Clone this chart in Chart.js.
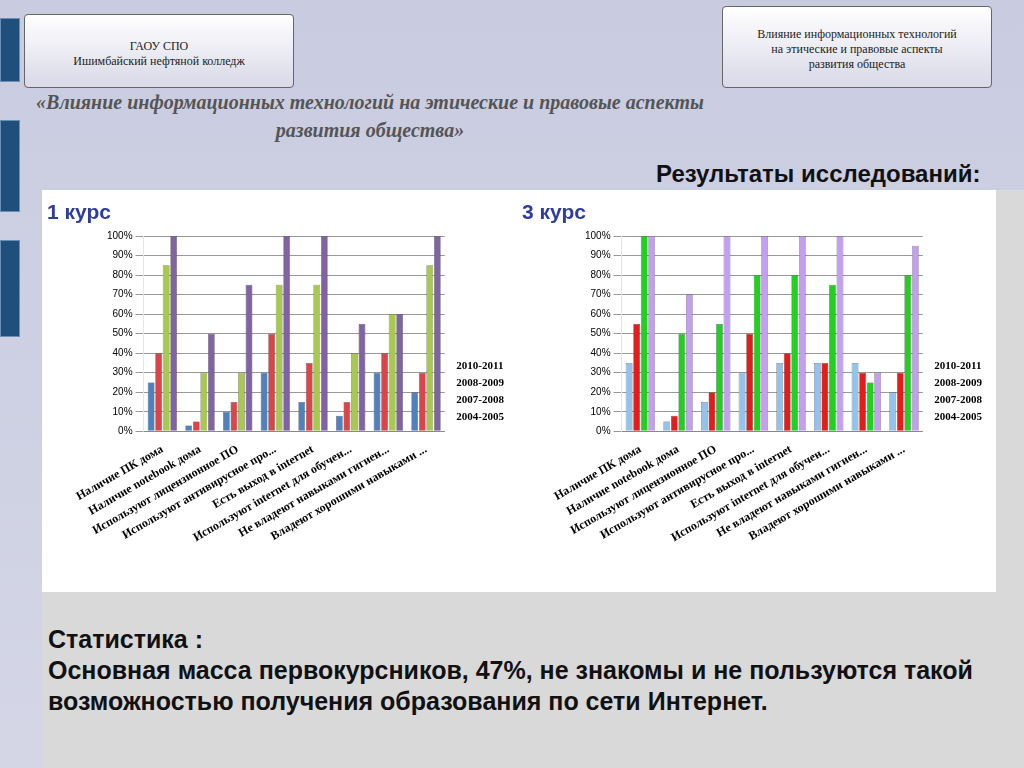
<!DOCTYPE html>
<html><head><meta charset="utf-8">
<script src="https://cdn.jsdelivr.net/npm/chart.js@4"></script>
<style>
body{margin:0;width:1024px;height:768px;overflow:hidden;background:linear-gradient(#c9cce0,#d4d6e6);font-family:"Liberation Sans",Arial,sans-serif;position:relative}
.sq{position:absolute;left:0;width:18px;background:#1f4f7a;border:1px solid #6a8fb5}
.scroll{position:absolute;background:linear-gradient(#fff,#d9d9e8);border:1px solid #666;border-radius:4px;text-align:center;font-family:"Liberation Serif",serif;font-size:12px;color:#222}
#title{position:absolute;left:20px;top:88px;width:700px;text-align:center;white-space:nowrap;font-family:"Liberation Serif",serif;font-style:italic;font-weight:bold;font-size:20px;color:#555;line-height:28px}
#res{position:absolute;left:656px;top:160px;font-size:24px;font-weight:bold;color:#111;white-space:nowrap}
#panel{position:absolute;left:42px;top:190px;width:954px;height:402px;background:#fff}
#bottom{position:absolute;left:42px;top:592px;width:982px;height:176px;background:#d9d9d9}
#rightgray{position:absolute;left:996px;top:190px;width:28px;height:402px;background:#d9d9d9}
#stat{position:absolute;left:48px;top:624px;font-size:25px;font-weight:bold;color:#111;line-height:31px;white-space:nowrap}
.lbl{position:absolute;font-size:21px;font-weight:bold;color:#2e3d9e}
.cw{position:absolute;top:192px;width:470px;height:396px}
</style></head><body>
<div class="sq" style="top:18px;height:62px"></div>
<div class="sq" style="top:120px;height:90px"></div>
<div class="sq" style="top:240px;height:95px"></div>
<div class="scroll" style="left:24px;top:14px;width:270px;height:74px;padding-top:24px;box-sizing:border-box">ГАОУ СПО<br>Ишимбайский нефтяной колледж</div>
<div class="scroll" style="left:722px;top:6px;width:270px;height:82px;padding-top:20px;box-sizing:border-box">Влияние информационных технологий<br>на этические и правовые аспекты<br>развития общества</div>
<div id="title">«Влияние информационных технологий на этические и правовые аспекты<br>развития общества»</div>
<div id="res">Результаты исследований:</div>
<div id="panel"></div><div id="rightgray"></div><div id="bottom"></div>
<div class="cw" style="left:44px"><canvas id="c1"></canvas></div>
<div class="cw" style="left:522px"><canvas id="c2"></canvas></div>
<div class="lbl" style="left:47px;top:200px">1 курс</div>
<div class="lbl" style="left:522px;top:200px">3 курс</div>
<div id="stat">Статистика :<br>Основная масса первокурсников, 47%, не знакомы и не пользуются такой<br>возможностью получения образования по сети Интернет.</div>
<script>
const categories=["Наличие ПК дома","Наличие notebook дома","Используют лицензионное ПО","Используют антивирусное про...","Есть выход в internet","Используют internet для обучен...","Не владеют навыками гигиен...","Владеют хорошими навыками ..."];
const years=["2004-2005","2007-2008","2008-2009","2010-2011"];
const k1_2004=[25,3,10,30,15,8,30,20];
const k1_2007=[40,5,15,50,35,15,40,30];
const k1_2008=[85,30,30,75,75,40,60,85];
const k1_2010=[100,50,75,100,100,55,60,100];
const k3_2004=[35,5,15,30,35,35,35,20];
const k3_2007=[55,8,20,50,40,35,30,30];
const k3_2008=[100,50,55,80,80,75,25,80];
const k3_2010=[100,70,100,100,100,100,30,95];
const tickLabels=["0%","10%","20%","30%","40%","50%","60%","70%","80%","90%","100%"];
function mk(id,series,colors){
 new Chart(document.getElementById(id),{type:'bar',
  data:{labels:categories,datasets:series.map((s,i)=>({label:years[i],data:s,backgroundColor:colors[i],borderColor:'#444',borderWidth:0.5}))},
  options:{responsive:true,maintainAspectRatio:false,animation:false,
   layout:{padding:{top:44,left:60,bottom:40}},
   plugins:{legend:{position:'right',align:'center',reverse:true,labels:{boxWidth:0,padding:6,font:{family:'Liberation Serif',size:11,weight:'bold'},color:'#000'}}},
   scales:{y:{min:0,max:100,ticks:{stepSize:10,callback:(v,i)=>tickLabels[i],font:{size:10},color:'#000'},grid:{color:'#999'}},
    x:{ticks:{maxRotation:30,minRotation:30,autoSkip:false,font:{family:'Liberation Serif',size:12,weight:'bold'},color:'#000'},grid:{display:false}}}}});
}
mk('c1',[k1_2004,k1_2007,k1_2008,k1_2010],['#4f81bd','#d9464a','#a8c94e','#8064a2']);
mk('c2',[k3_2004,k3_2007,k3_2008,k3_2010],['#93c3e8','#e31c1c','#22d022','#c39ff0']);
</script></body></html>
